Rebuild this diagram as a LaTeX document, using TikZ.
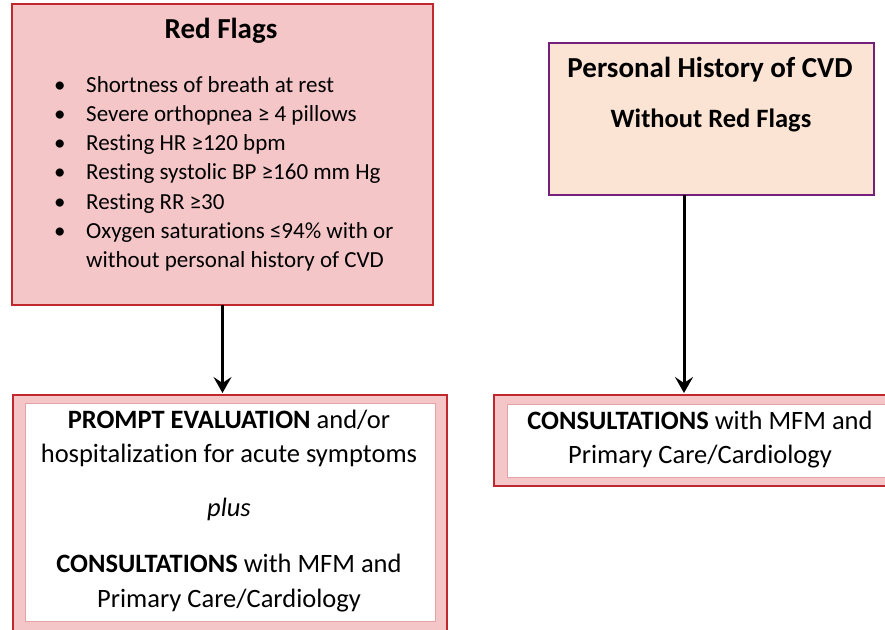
\documentclass[tikz,border=0pt]{standalone}
\usepackage{fontspec}
\setmainfont{Carlito}[Ligatures=CommonOff]
\usetikzlibrary{arrows.meta,calc}
\definecolor{rfborder}{HTML}{C0282D}
\definecolor{rffill}{HTML}{F4C6C8}
\definecolor{phfill}{HTML}{FCE4D5}
\definecolor{phborder}{HTML}{74207A}
\definecolor{innerline}{HTML}{E6A3A7}
\begin{document}
\begin{tikzpicture}[x=1pt,y=-1pt,
  box/.style={rectangle, inner sep=0pt, outer sep=0pt},
  redbox/.style={box, fill=rffill, draw=rfborder, line width=2pt},
  whitebox/.style={box, fill=white, draw=innerline, line width=0.8pt},
  arr/.style={line width=3pt, -{Stealth[length=16pt,width=18pt,inset=6pt]}, shorten >=2pt},
  body/.style={inner sep=0pt, font=\fontsize{23}{29.3}\selectfont},
  big/.style={inner sep=0pt, font=\fontsize{26.5}{34.5}\selectfont, align=center}
]
\useasboundingbox (0,0) rectangle (885,629);
\clip (0,0) rectangle (885,629);

% Red Flags box
\node[redbox, minimum width=421pt, minimum height=301pt] (rf) at (222.5,154) {};
\node[inner sep=0pt, anchor=base, font=\bfseries\fontsize{29}{35}\selectfont] (rft) at (221,38) {Red Flags};
\node[body, anchor=base west] (rfl) at (54,92) {%
\begin{tabular}[t]{@{}p{32pt}@{}l@{}}
\textbullet & Shortness of breath at rest\\
\textbullet & Severe orthopnea ≥ 4 pillows\\
\textbullet & Resting HR ≥120 bpm\\
\textbullet & Resting systolic BP ≥160 mm Hg\\
\textbullet & Resting RR ≥30\\
\textbullet & Oxygen saturations ≤94\% with or\\
 & without personal history of CVD
\end{tabular}};

% Personal history box
\node[box, fill=phfill, draw=phborder, line width=2pt, minimum width=325pt, minimum height=152pt] (ph) at (711.5,119) {};
\node[inner sep=0pt, anchor=base, font=\bfseries\fontsize{29}{35}\selectfont] (pht) at (710,77) {Personal History of CVD};
\node[inner sep=0pt, anchor=base, font=\bfseries\fontsize{26.5}{32}\selectfont] (phs) at (711,127) {Without Red Flags};

% Bottom left box
\node[redbox, minimum width=434pt, minimum height=245pt] (ob) at (229.5,517.5) {};
\node[whitebox, minimum width=410pt, minimum height=218pt] (obi) at (230,512) {};
\node[big, anchor=base] (obt) at (229,428) {%
\begin{tabular}[t]{@{}c@{}}
\textbf{PROMPT EVALUATION} and/or\\
hospitalization for acute symptoms\\[19.5pt]
\textit{plus}\\[21.5pt]
\textbf{CONSULTATIONS} with MFM and\\
Primary Care/Cardiology
\end{tabular}};

% Bottom right box
\node[redbox, minimum width=416pt, minimum height=91pt] (cb) at (702,440.5) {};
\node[whitebox, minimum width=403pt, minimum height=73pt] (cbi) at (708.5,440.5) {};
\node[big, anchor=base] (cbt) at (700,429) {%
\begin{tabular}[t]{@{}c@{}}
\textbf{CONSULTATIONS} with MFM and\\
Primary Care/Cardiology
\end{tabular}};

% Arrows
\draw[arr] (rf.south) -- (rf.south |- ob.north);
\draw[arr] ([xshift=-27.5pt]ph.south) -- ([xshift=-27.5pt]ph.south |- cb.north);
\end{tikzpicture}
\end{document}
